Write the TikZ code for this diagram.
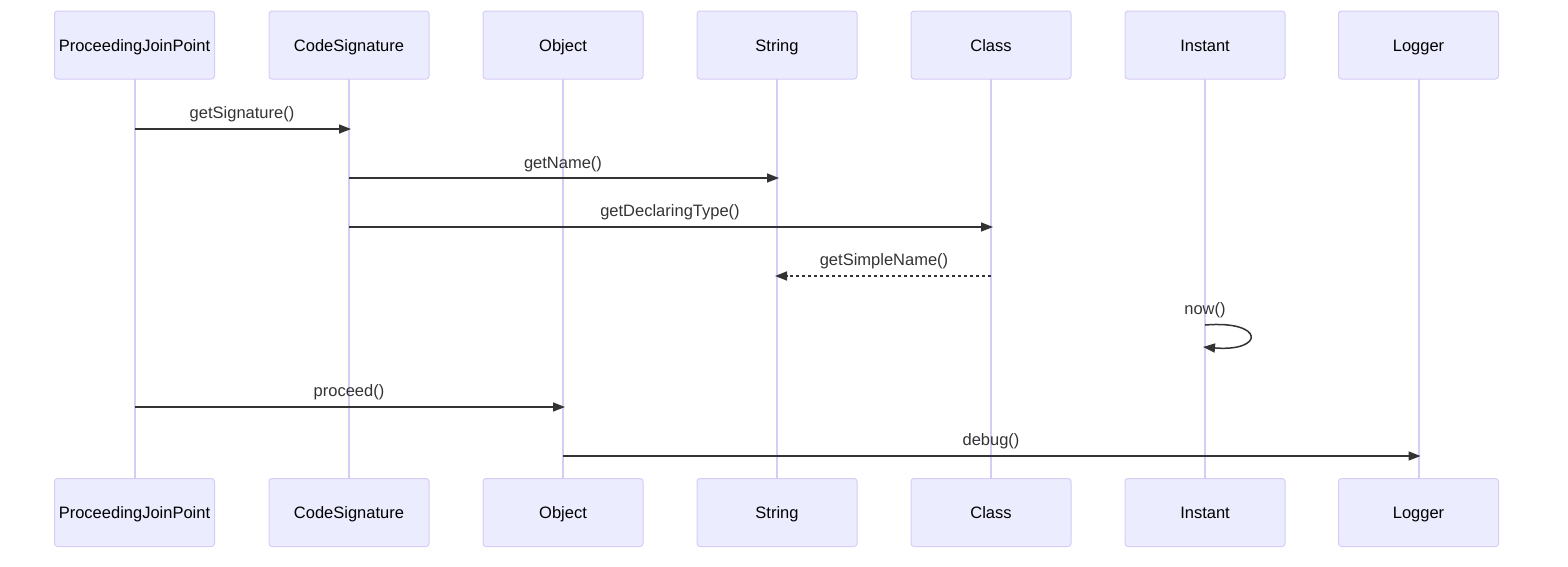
\documentclass[tikz,border=0pt]{standalone}
\usepackage{fontspec}
\setmainfont{Liberation Sans}
\usetikzlibrary{arrows.meta}
\definecolor{actfill}{HTML}{ECECFF}
\definecolor{actline}{HTML}{D6CCF5}
\definecolor{lifeline}{HTML}{D6CCF5}
\definecolor{msg}{HTML}{333333}
\begin{document}
\begin{tikzpicture}[x=1pt,y=-1pt,
  actor/.style={draw=actline, fill=actfill, line width=1pt, rounded corners=3pt, minimum width=160pt, minimum height=68pt, font=\fontsize{16.5}{19}\selectfont, text=black, inner sep=0pt, text height=14pt, text depth=1.5pt},
  life/.style={draw=lifeline, line width=2pt},
  msgline/.style={draw=msg, line width=1.5pt, -{Triangle[length=12pt,width=9pt]}},
  dashmsg/.style={msgline, dash pattern=on 3pt off 3pt},
  lbl/.style={font=\fontsize{16.5}{19}\selectfont, text=msg, inner sep=0pt, text height=14pt, text depth=1.5pt}]
\useasboundingbox (0,0) rectangle (1568,566);
\foreach \n/\x/\t in {pjp/134.5/ProceedingJoinPoint, cs/349/CodeSignature, obj/563/Object, str/777/String, cls/991/Class, ins/1205/Instant, log/1418.5/Logger}{
  \draw[life] (\x,79) -- (\x,478);
  \node[actor] (\n t) at (\x,45) {\t};
  \node[actor] (\n b) at (\x,512.5) {\t};
  \coordinate (\n) at (\x,0);
}
\coordinate (a1) at (pjp |- 0,129); \coordinate (b1) at ([xshift=2pt]cs |- 0,129);
\draw[msgline] (a1) -- (b1);
\node[lbl] at (242,112) {getSignature()};
\coordinate (a2) at (cs |- 0,178); \coordinate (b2) at ([xshift=2pt]str |- 0,178);
\draw[msgline] (a2) -- (b2);
\node[lbl] at (563,162) {getName()};
\coordinate (a3) at (cs |- 0,227); \coordinate (b3) at ([xshift=2pt]cls |- 0,227);
\draw[msgline] (a3) -- (b3);
\node[lbl] at (670,210) {getDeclaringType()};
\coordinate (a4) at (cls |- 0,276); \coordinate (b4) at ([xshift=-2pt]str |- 0,276);
\draw[dashmsg] (a4) -- (b4);
\node[lbl] at (884,259) {getSimpleName()};
\coordinate (a5) at (ins |- 0,325); \coordinate (b5) at ([xshift=-2pt]ins |- 0,347);
\draw[msgline] (a5) .. controls (1265,320) and (1265,352) .. (b5);
\node[lbl] at (1205,308) {now()};
\coordinate (a6) at (pjp |- 0,407); \coordinate (b6) at ([xshift=2pt]obj |- 0,407);
\draw[msgline] (a6) -- (b6);
\node[lbl] at (349,390) {proceed()};
\coordinate (a7) at (obj |- 0,456); \coordinate (b7) at ([xshift=2pt]log |- 0,456);
\draw[msgline] (a7) -- (b7);
\node[lbl] at (991,439) {debug()};
\end{tikzpicture}
\end{document}
